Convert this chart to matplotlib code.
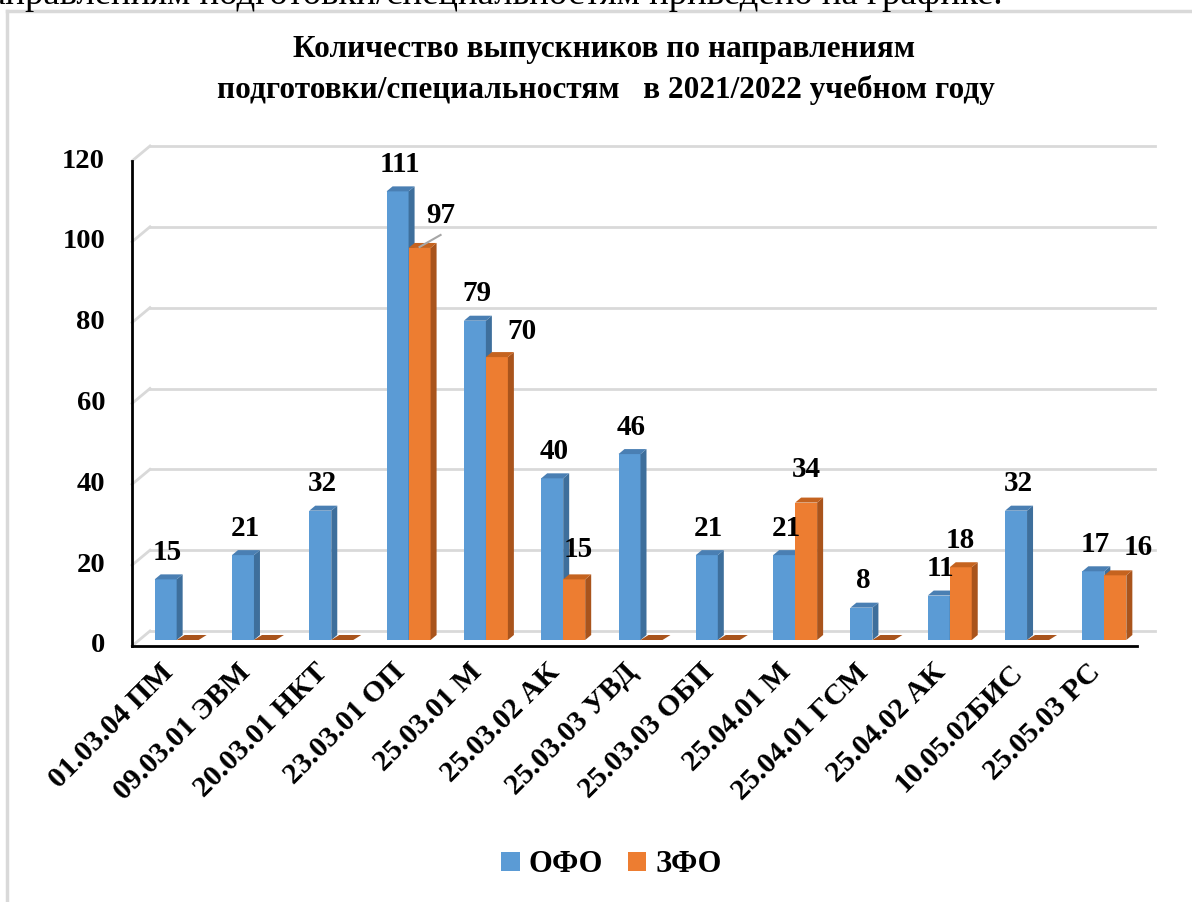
import matplotlib.pyplot as plt
from matplotlib.patches import Polygon, Patch
from matplotlib.lines import Line2D

# data
categories = ['01.03.04 ПМ', '09.03.01 ЭВМ', '20.03.01 НКТ', '23.03.01 ОП',
              '25.03.01 М', '25.03.02 АК', '25.03.03 УВД', '25.03.03 ОБП',
              '25.04.01 М', '25.04.01 ГСМ', '25.04.02 АК', '10.05.02БИС',
              '25.05.03 РС']
ofo = [15, 21, 32, 111, 79, 40, 46, 21, 21, 8, 11, 32, 17]
zfo = [0, 0, 0, 97, 70, 15, 0, 0, 34, 0, 18, 0, 16]
yticks = [0, 20, 40, 60, 80, 100, 120]
series_names = ['ОФО', 'ЗФО']

# label offsets for ЗФО values (pixels, right / up), zero values get no label
zfo_label_off = {3: (21, 32), 4: (25, 26), 5: (4, 30), 8: (0, 33),
                 10: (0, 27), 12: (23, 28)}

blue = ('#5b9bd5', '#3e6f9c', '#4a7fb3')
orange = ('#ed7d31', '#a9541c', '#c5631f')
grid_c = '#d9d9d9'
serif = 'Liberation Serif'

W, H = 1192, 902
fig = plt.figure(figsize=(W / 100, H / 100), dpi=100)
ax = fig.add_axes([138 / W, 1 - 640 / H, 1005 / W, 485 / H])
ax.set_xlim(-0.5, 12.5)
ax.set_ylim(0, 120)
ax.axis('off')

px = 13 / 1005   # one pixel in x data units
py = 120 / 485   # one pixel in y data units
bw = 22 * px


def bar3d(x0, v, cols):
    d, e = 6 * px, 5 * py
    front, side, top = cols
    if v > 0:
        ax.add_patch(Polygon([(x0, 0), (x0 + bw, 0), (x0 + bw, v), (x0, v)],
                             fc=front, ec='none', zorder=3))
        ax.add_patch(Polygon([(x0 + bw, 0), (x0 + bw + d, e), (x0 + bw + d, v + e), (x0 + bw, v)],
                             fc=side, ec='none', zorder=3))
        ax.add_patch(Polygon([(x0, v), (x0 + bw, v), (x0 + bw + d, v + e), (x0 + d, v + e)],
                             fc=top, ec='none', zorder=3))
    else:
        d = 8 * px
        ax.add_patch(Polygon([(x0, 0), (x0 + bw, 0), (x0 + bw + d, e), (x0 + d, e)],
                             fc=side, ec='none', zorder=3, clip_on=False))


# back wall gridlines and left wall diagonals
x_left = -0.5
x_right = 12.5
for v in yticks:
    ax.plot([x_left + 12 * px, x_right + 12 * px], [v + 9 * py, v + 9 * py],
            color=grid_c, lw=2, zorder=1, clip_on=False)
    ax.plot([x_left - 6 * px, x_left + 12 * px], [v - 6 * py, v + 9 * py],
            color=grid_c, lw=2, zorder=1, clip_on=False)

# bars
for i in range(len(categories)):
    bar3d(i - bw, ofo[i], blue)
    bar3d(i, zfo[i], orange)

# front axes lines
ax.plot([x_left - 6 * px, x_left - 6 * px], [-6 * py, 120 - 6 * py], color='black',
        lw=2, zorder=4, clip_on=False)
ax.plot([x_left - 6 * px, x_right - 6 * px], [-6 * py, -6 * py], color='black',
        lw=2, zorder=4, clip_on=False)

# y tick labels
for v in yticks:
    ax.text(x_left - 33 * px, v - 6 * py, str(v), ha='right', va='center',
            fontsize=20.5, fontweight='bold', family=serif, clip_on=False)

# value labels
for i, v in enumerate(ofo):
    ax.text(i - bw / 2 + 2 * px, v + 27 * py, str(v), ha='center', va='center',
            fontsize=21, fontweight='bold', family=serif, zorder=5)
for i, v in enumerate(zfo):
    if v == 0:
        continue
    dx, dy = zfo_label_off[i]
    ax.text(i + bw / 2 + dx * px, v + dy * py, str(v), ha='center', va='center',
            fontsize=21, fontweight='bold', family=serif, zorder=5)
    if i == 3:
        ax.plot([i + bw / 2, i + bw / 2 + 21 * px], [v + 1 * py, v + 13 * py],
                color='#a6a6a6', lw=1.5, zorder=5)

# category labels
for i, c in enumerate(categories):
    ax.text(i - 8 * px, -28 * py, c, rotation=45, ha='right', va='center',
            rotation_mode='anchor', fontsize=21.5, fontweight='bold', family=serif,
            clip_on=False)

# title
fig.text(0.507, 1 - 49 / H, 'Количество выпускников по направлениям',
         ha='center', va='center', fontsize=22.5, fontweight='bold', family=serif)
fig.text(0.508, 1 - 90 / H, 'подготовки/специальностям   в 2021/2022 учебном году',
         ha='center', va='center', fontsize=22.5, fontweight='bold', family=serif)

# legend
handles = [Patch(fc=blue[0], ec='none'), Patch(fc=orange[0], ec='none')]
fig.legend(handles, series_names, loc='center', bbox_to_anchor=(0.513, 1 - 865 / H),
           ncol=2, frameon=False, handlelength=0.6, handleheight=0.6,
           handletextpad=0.3, columnspacing=0.8,
           prop={'family': serif, 'weight': 'bold', 'size': 22})

# chart frame and clipped document text above it
fig.add_artist(Line2D([7 / W, 7 / W], [0, 1 - 11 / H], color='#d9d9d9', lw=2.5))
fig.add_artist(Line2D([7 / W, 1], [1 - 11 / H, 1 - 11 / H], color='#d9d9d9', lw=2.5))
fig.text(-30 / W, 1 - 4 / H, 'направлениям подготовки/специальностям приведено на графике.',
         ha='left', va='baseline', fontsize=26.5, family=serif)

fig.savefig('out.png', dpi=100)
